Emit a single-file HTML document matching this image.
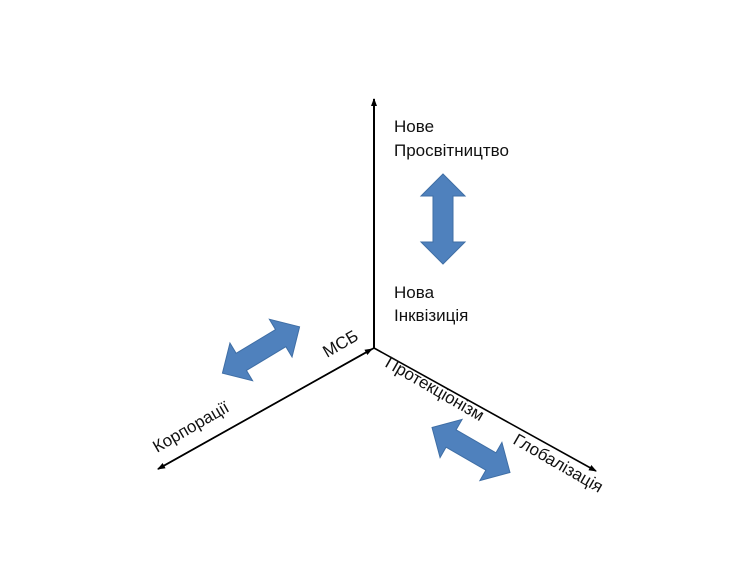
<!DOCTYPE html>
<html><head><meta charset="utf-8">
<style>
html,body{margin:0;padding:0;background:#fff;}
svg{display:block;}
text{font-family:"Liberation Sans","DejaVu Sans",sans-serif;font-size:17px;fill:#111;}
</style></head><body>
<svg width="750" height="563" viewBox="0 0 750 563" xmlns="http://www.w3.org/2000/svg">
<defs>
<marker id="ah" markerWidth="8" markerHeight="8" refX="7" refY="4" orient="auto" markerUnits="userSpaceOnUse">
<path d="M0,1 L8,4 L0,7 Z" fill="#000"/>
</marker>
<path id="da" d="M-45,0 L-23,-22 L-23,-10 L23,-10 L23,-22 L45,0 L23,22 L23,10 L-23,10 L-23,22 Z" fill="#4f81bd" stroke="#3f6ea5" stroke-width="1"/>
</defs>
<line x1="374" y1="348" x2="374" y2="99" stroke="#000" stroke-width="2" marker-end="url(#ah)"/>
<line x1="374" y1="348" x2="158" y2="469" stroke="#000" stroke-width="1.6" marker-end="url(#ah)"/>
<line x1="374" y1="348" x2="596" y2="471" stroke="#000" stroke-width="1.6" marker-end="url(#ah)"/>
<line x1="158" y1="469" x2="372" y2="349" stroke="#000" stroke-width="1.6" marker-end="url(#ah)"/>

<use href="#da" transform="translate(443,219) rotate(90)"/>
<use href="#da" transform="translate(261,350) rotate(-31)"/>
<use href="#da" transform="translate(471,450) rotate(30)"/>

<text x="394" y="132">Нове</text>
<text x="394" y="156">Просвітництво</text>
<text x="394" y="298">Нова</text>
<text x="394" y="321">Інквізиція</text>

<text transform="translate(327,358) rotate(-30)">МСБ</text>
<text transform="translate(157,453) rotate(-30)">Корпорації</text>
<text transform="translate(384,366) rotate(30)">Протекціонізм</text>
<text transform="translate(512,443) rotate(30)">Глобалізація</text>
</svg>
</body></html>
